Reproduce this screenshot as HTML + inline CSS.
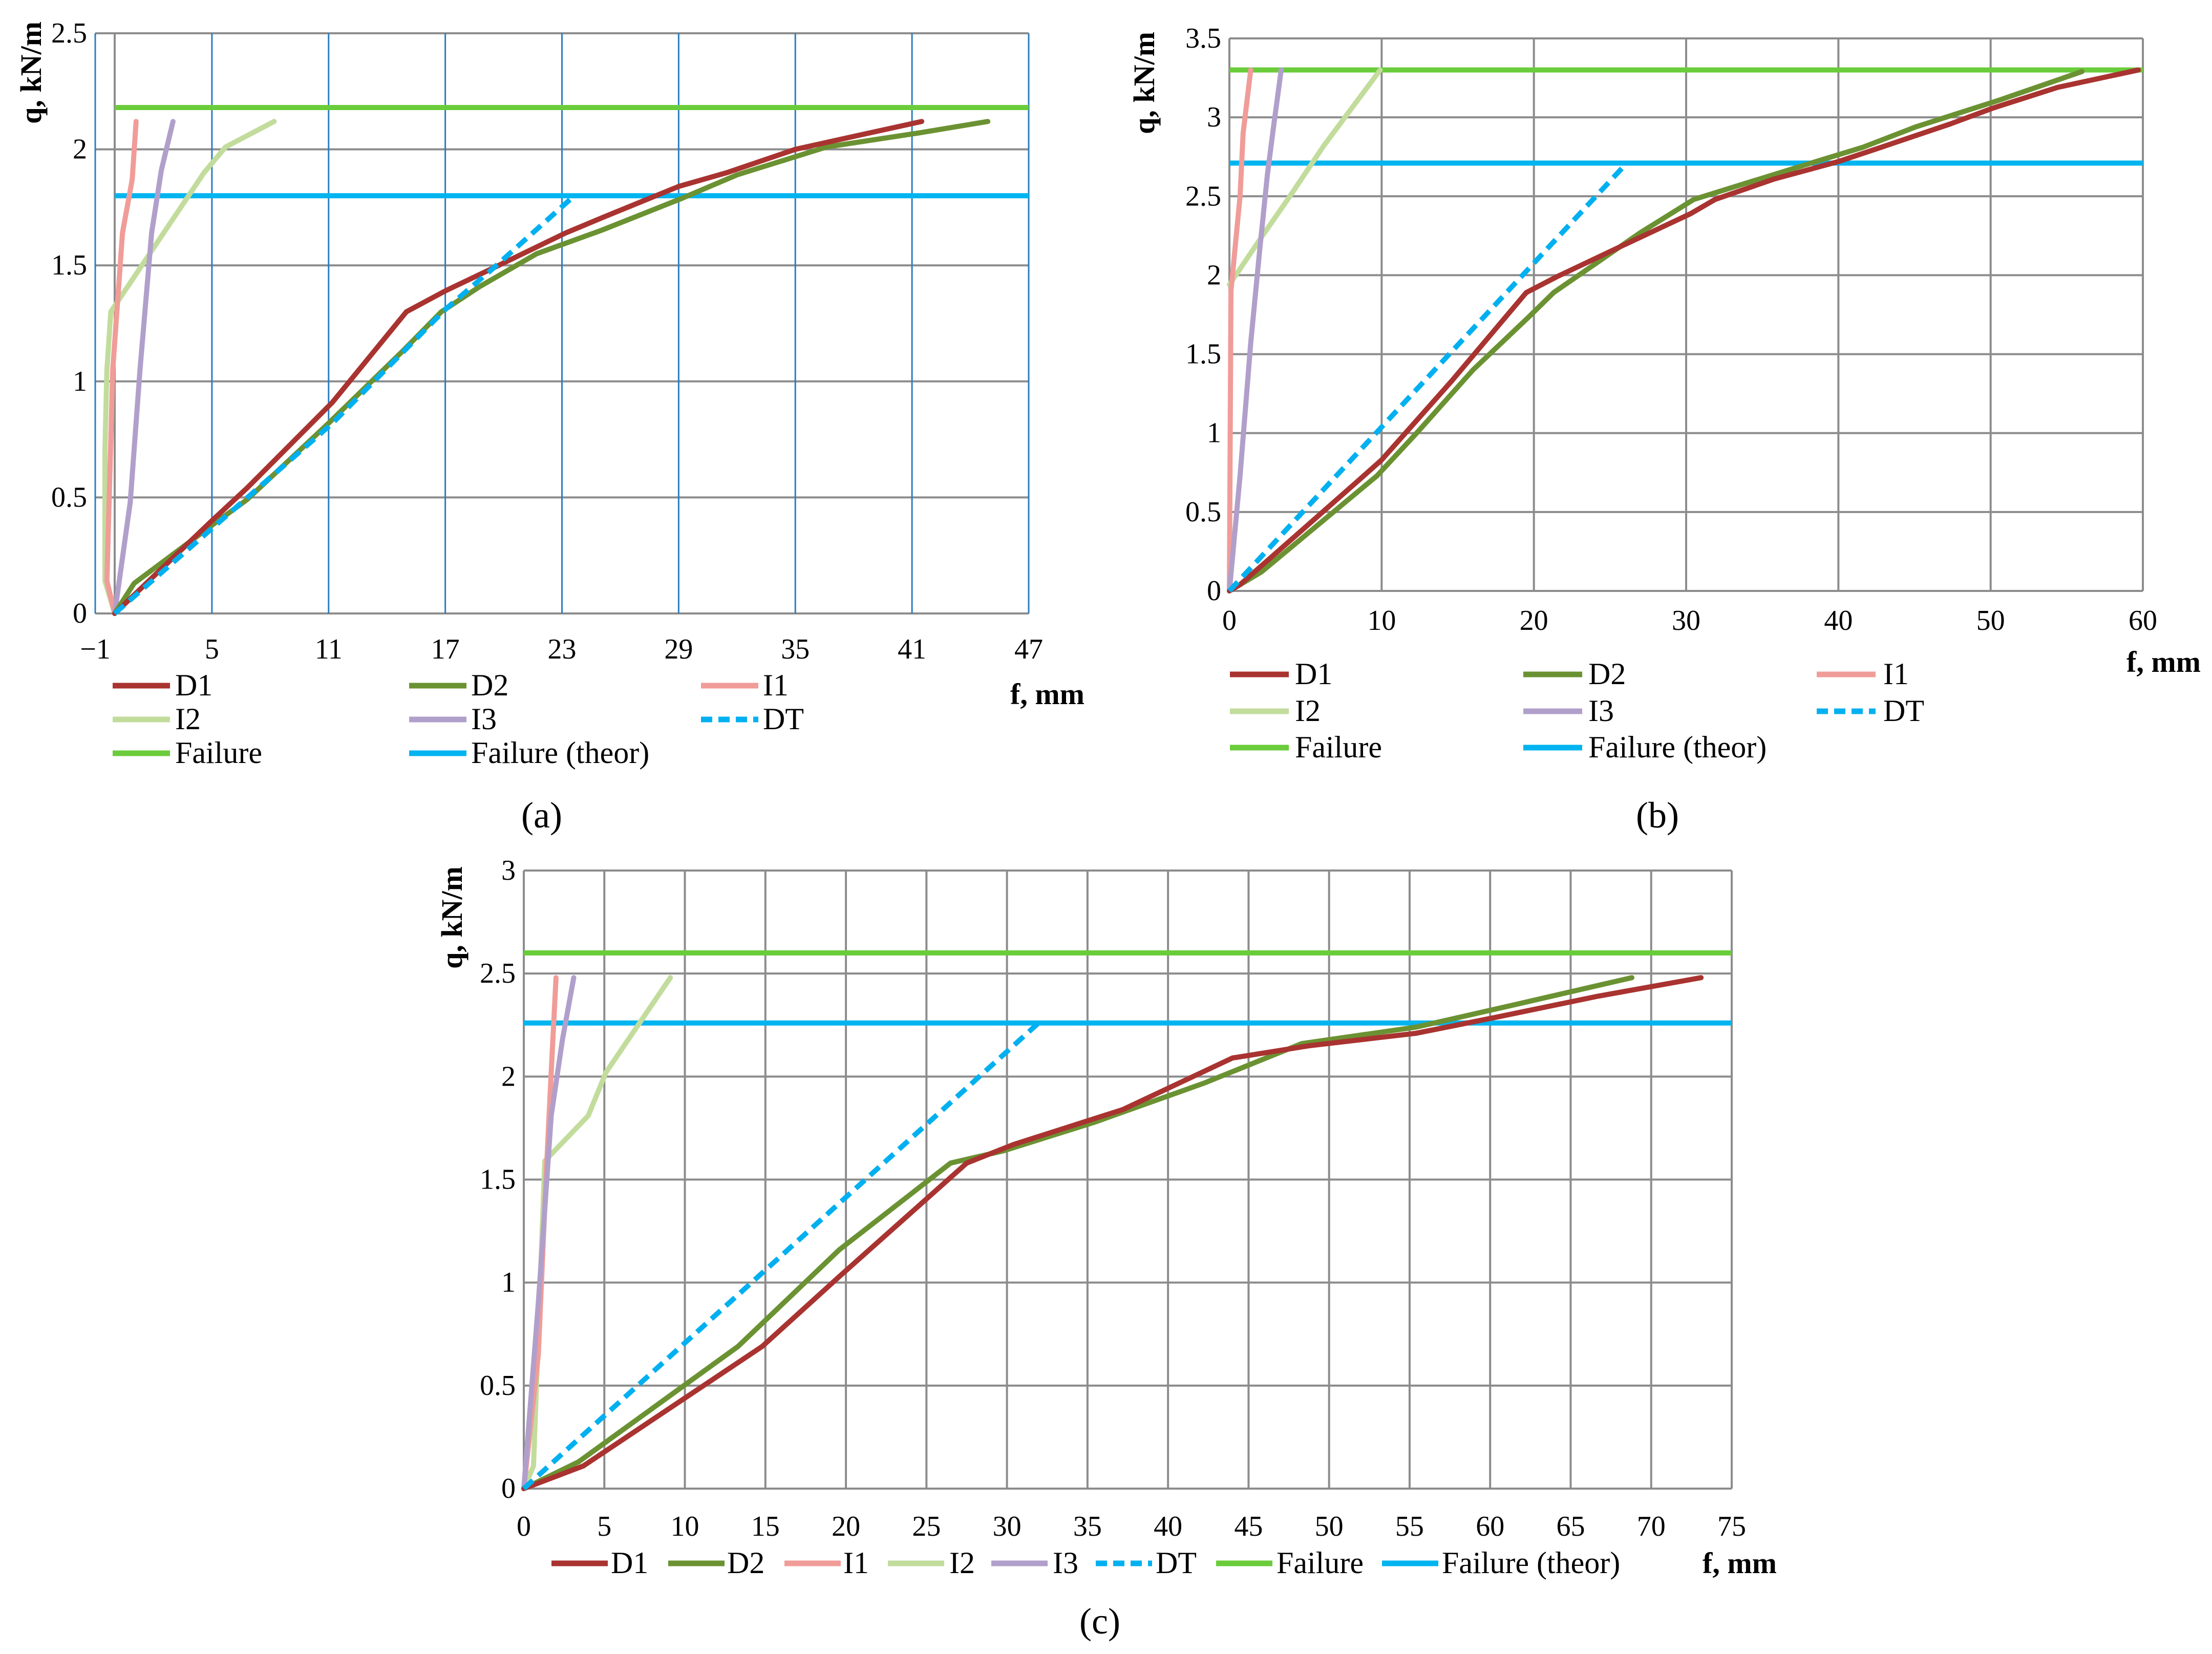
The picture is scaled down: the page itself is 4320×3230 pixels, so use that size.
<!DOCTYPE html>
<html><head><meta charset="utf-8"><style>
html,body{margin:0;padding:0;background:#fff}
svg{display:block;font-family:"Liberation Serif","Times New Roman",serif}
</style></head><body>
<svg id="fig" width="4320" height="3230" viewBox="0 0 4320 3230" xmlns="http://www.w3.org/2000/svg" font-family="Liberation Serif, serif">
<rect x="0" y="0" width="4320" height="3230" fill="#fff"/>
</svg>
<script>
// ---------- Panel (a) data ----------
const aD1x=[0,5,6.8,11.2,15,17,19.5,23.2,25.2,29,31.5,35,37.7,41.5];
const aD1y=[0,0.4,0.54,0.91,1.3,1.39,1.49,1.64,1.71,1.84,1.9,2.0,2.05,2.12];
const aD2x=[0,1,5,6.8,11,14.8,16.8,18.8,21.7,25,29.2,32,36.6,41.3,44.9];
const aD2y=[0,0.13,0.38,0.49,0.82,1.13,1.3,1.41,1.55,1.65,1.79,1.89,2.01,2.07,2.12];
const aI1x=[0,-0.4,-0.1,0.4,0.9,1.1];
const aI1y=[0,0.14,1.05,1.64,1.87,2.12];
const aI2x=[0,-0.5,-0.5,-0.4,-0.2,4.6,5.7,8.2];
const aI2y=[0,0.14,0.71,1.05,1.3,1.9,2.01,2.12];
const aI3x=[0,0.8,1.3,1.9,2.4,3];
const aI3y=[0,0.48,1.05,1.64,1.91,2.12];
const aDTx=[0,11.2,17,19.5,23.5];
const aDTy=[0,0.82,1.31,1.49,1.79];
const aFail=2.18, aFailT=1.8;
const aXticks=[-1,5,11,17,23,29,35,41,47];
const aYticks=[0,0.5,1,1.5,2,2.5];
// ---------- Panel (b) data ----------
const bD1x=[0,0.7,8.6,10,14.6,19.5,21.5,26.1,30.3,31.9,35.8,40,42.8,47.4,50.2,54.4,59.7];
const bD1y=[0,0.04,0.71,0.83,1.33,1.89,1.99,2.2,2.39,2.48,2.61,2.72,2.81,2.96,3.06,3.19,3.3];
const bD2x=[0,2.1,9.7,12.3,16,19.6,21.3,24.3,27,30.5,33.5,38.2,41.6,45.1,50.6,56];
const bD2y=[0,0.12,0.73,1.0,1.4,1.73,1.89,2.09,2.27,2.48,2.57,2.71,2.81,2.94,3.11,3.29];
const bI1x=[0,0.1,0.7,0.9,1.4];
const bI1y=[0,1.9,2.5,2.9,3.3];
const bI2x=[0,2.1,3.9,6.2,9.9];
const bI2y=[1.94,2.24,2.49,2.82,3.3];
const bI3x=[0,0.7,1.4,2,2.5,2.9,3.4];
const bI3y=[0,0.73,1.57,2.17,2.64,2.94,3.3];
const bDTx=[0,26.1];
const bDTy=[0,2.71];
const bFail=3.3, bFailT=2.71;
const bXticks=[0,10,20,30,40,50,60];
const bYticks=[0,0.5,1,1.5,2,2.5,3,3.5];
// ---------- Panel (c) data ----------
const cD1x=[0,3.7,14.8,19.6,27.5,30.4,37.2,44,48.8,55.4,60.5,66.7,73.1];
const cD1y=[0,0.11,0.69,1.03,1.58,1.67,1.84,2.09,2.15,2.21,2.29,2.39,2.48];
const cD2x=[0,3.4,13.3,19.6,26.5,29.8,35.5,42.3,48.3,55.4,61.6,68.8];
const cD2y=[0,0.13,0.69,1.16,1.58,1.64,1.78,1.97,2.16,2.24,2.35,2.48];
const cI1x=[0,0.9,1.4,1.7,2];
const cI1y=[0,0.65,1.54,2.02,2.48];
const cI2x=[0,0.6,1.3,4,5.1,9.1];
const cI2y=[0,0.11,1.59,1.81,2.02,2.48];
const cI3x=[0,0.9,1.7,2.4,3.1];
const cI3y=[0,0.9,1.81,2.18,2.48];
const cDTx=[0,32.1];
const cDTy=[0,2.27];
const cFail=2.6, cFailT=2.26;
const cXticks=[0,5,10,15,20,25,30,35,40,45,50,55,60,65,70,75];
const cYticks=[0,0.5,1,1.5,2,2.5,3];

const NS="http://www.w3.org/2000/svg";
const svg=document.getElementById('fig');
const FONT='"Liberation Serif", "Times New Roman", serif';
const COL={D1:"#a93330",D2:"#6b9232",I1:"#f09c98",I2:"#c2dc9c",I3:"#b19fcb",DT:"#00b0f0",Failure:"#6acc3a",FT:"#00b4f0"};
function el(tag,attrs,parent){const e=document.createElementNS(NS,tag);for(const k in attrs)e.setAttribute(k,attrs[k]);(parent||svg).appendChild(e);return e;}
function txt(s,x,y,size,anchor,parent,extra){const t=el('text',Object.assign({x:x,y:y,'font-size':size,'text-anchor':anchor||'start',fill:'#000'},extra||{}),parent);t.style.fontFamily=FONT;t.textContent=s;return t;}

function panel(id,cfg){
  const g=el('g',{});
  
  
  const sx=v=>cfg.x0+(v-cfg.xmin)/(cfg.xmax-cfg.xmin)*(cfg.x1-cfg.x0);
  const sy=v=>cfg.y0-(v-cfg.ymin)/(cfg.ymax-cfg.ymin)*(cfg.y0-cfg.y1);
  cfg.yt.forEach(v=>{
    const l=el('line',{x1:cfg.x0,x2:cfg.x1,y1:sy(v),y2:sy(v),stroke:'#8c8c8c','stroke-width':4},g);
    
    
    const t=txt(String(v),cfg.x0-16,sy(v)+18,56,'end',g);
    
    
  });
  cfg.xt.forEach(v=>{
    const l=el('line',{x1:sx(v),x2:sx(v),y1:cfg.y1,y2:cfg.y0,stroke:cfg.vcol,'stroke-width':cfg.vw},g);
    
    
    const t=txt(v<0?'\u2212'+Math.abs(v):String(v),sx(v),cfg.y0+cfg.xlabOff,56,'middle',g);
    
    
  });
  if(cfg.xmin<0){
    const l=el('line',{x1:sx(0),x2:sx(0),y1:cfg.y1,y2:cfg.y0,stroke:'#8c8c8c','stroke-width':4},g);
    
    
  }
  const f1=el('line',{x1:sx(0),x2:cfg.x1,y1:sy(cfg.fail),y2:sy(cfg.fail),stroke:COL.Failure,'stroke-width':10},g);
  
  
  const f2=el('line',{x1:sx(0),x2:cfg.x1,y1:sy(cfg.failT),y2:sy(cfg.failT),stroke:COL.FT,'stroke-width':10},g);
  
  
  const series=[['I2',cfg.I2],['I1',cfg.I1],['I3',cfg.I3],['D2',cfg.D2],['D1',cfg.D1],['DT',cfg.DT]];
  series.forEach(([n,[xs,ys]])=>{
    const pts=xs.map((x,i)=>sx(x).toFixed(1)+','+sy(ys[i]).toFixed(1)).join(' ');
    const a={points:pts,fill:'none',stroke:COL[n],'stroke-width':10,'stroke-linejoin':'round','stroke-linecap':'round'};
    if(n==='DT'){a['stroke-dasharray']='24 14';a['stroke-linecap']='butt';}
    const p=el('polyline',a,g);
    
    
  });
  const yt=txt('q, kN/m',0,0,58,'end',g,{'font-weight':'bold',transform:'translate('+cfg.ytx+','+cfg.yty+') rotate(-90)'});
  
  
  const xt=txt('f,  mm',cfg.fx,cfg.fy,58,'end',g,{'font-weight':'bold'});
  
  
  cfg.legend.forEach(([n,lx,ly,tx,label])=>{
    const c=n==='Failure (theor)'?COL.FT:COL[n];
    const a={x1:lx,x2:lx+cfg.lw,y1:ly,y2:ly,stroke:c,'stroke-width':11};
    if(n==='DT')a['stroke-dasharray']='22 12';
    const l=el('line',a,g);
    
    
    const t=txt(label,tx,ly+19,60,'start',g);
    
    
  });
  const pl=txt(cfg.plabel[0],cfg.plabel[1],cfg.plabel[2],72,'middle',g);
  
  
}

const legA=[['D1',220,1339,342,'D1'],['D2',799,1339,920,'D2'],['I1',1369,1339,1490,'I1'],
 ['I2',220,1405,342,'I2'],['I3',799,1405,920,'I3'],['DT',1369,1405,1490,'DT'],
 ['Failure',220,1471,342,'Failure'],['Failure (theor)',799,1471,920,'Failure (theor)']];
panel('a',{x0:186,x1:2009,y0:1198,y1:65,xmin:-1,xmax:47,ymin:0,ymax:2.5,xt:aXticks,yt:aYticks,
  vcol:'#2a7ec0',vw:3,xlabOff:88,fail:aFail,failT:aFailT,
  D1:[aD1x,aD1y],D2:[aD2x,aD2y],I1:[aI1x,aI1y],I2:[aI2x,aI2y],I3:[aI3x,aI3y],DT:[aDTx,aDTy],
  ytx:80,yty:42,fx:2118,fy:1375,legend:legA,lw:112,plabel:['(a)',1058,1616]});

const legB=[['D1',2402,1317,2529,'D1'],['D2',2975,1317,3102,'D2'],['I1',3548,1317,3678,'I1'],
 ['I2',2402,1389,2529,'I2'],['I3',2975,1389,3102,'I3'],['DT',3548,1389,3678,'DT'],
 ['Failure',2402,1460,2529,'Failure'],['Failure (theor)',2975,1460,3102,'Failure (theor)']];
panel('b',{x0:2401,x1:4185,y0:1154,y1:75,xmin:0,xmax:60,ymin:0,ymax:3.5,xt:bXticks,yt:bYticks,
  vcol:'#8c8c8c',vw:4,xlabOff:76,fail:bFail,failT:bFailT,
  D1:[bD1x,bD1y],D2:[bD2x,bD2y],I1:[bI1x,bI1y],I2:[bI2x,bI2y],I3:[bI3x,bI3y],DT:[bDTx,bDTy],
  ytx:2254,yty:62,fx:4298,fy:1312,legend:legB,lw:115,plabel:['(b)',3237,1616]});

const cx=v=>Math.round(800+v*1.786);
const legC=[['D1',cx(155),3053,cx(220),'D1'],['D2',cx(283),3053,cx(347),'D2'],['I1',cx(410),3053,cx(474),'I1'],
 ['I2',cx(523),3053,cx(590),'I2'],['I3',cx(636),3053,cx(703),'I3'],['DT',cx(750),3053,cx(816),'DT'],
 ['Failure',cx(882),3053,cx(948),'Failure'],['Failure (theor)',cx(1063),3053,cx(1129),'Failure (theor)']];
panel('c',{x0:1023,x1:3382,y0:2907,y1:1700,xmin:0,xmax:75,ymin:0,ymax:3,xt:cXticks,yt:cYticks,
  vcol:'#8c8c8c',vw:4,xlabOff:92,fail:cFail,failT:cFailT,
  D1:[cD1x,cD1y],D2:[cD2x,cD2y],I1:[cI1x,cI1y],I2:[cI2x,cI2y],I3:[cI3x,cI3y],DT:[cDTx,cDTy],
  ytx:902,yty:1692,fx:3470,fy:3072,legend:legC,lw:110,plabel:['(c)',2148,3190]});
</script>
</body></html>
